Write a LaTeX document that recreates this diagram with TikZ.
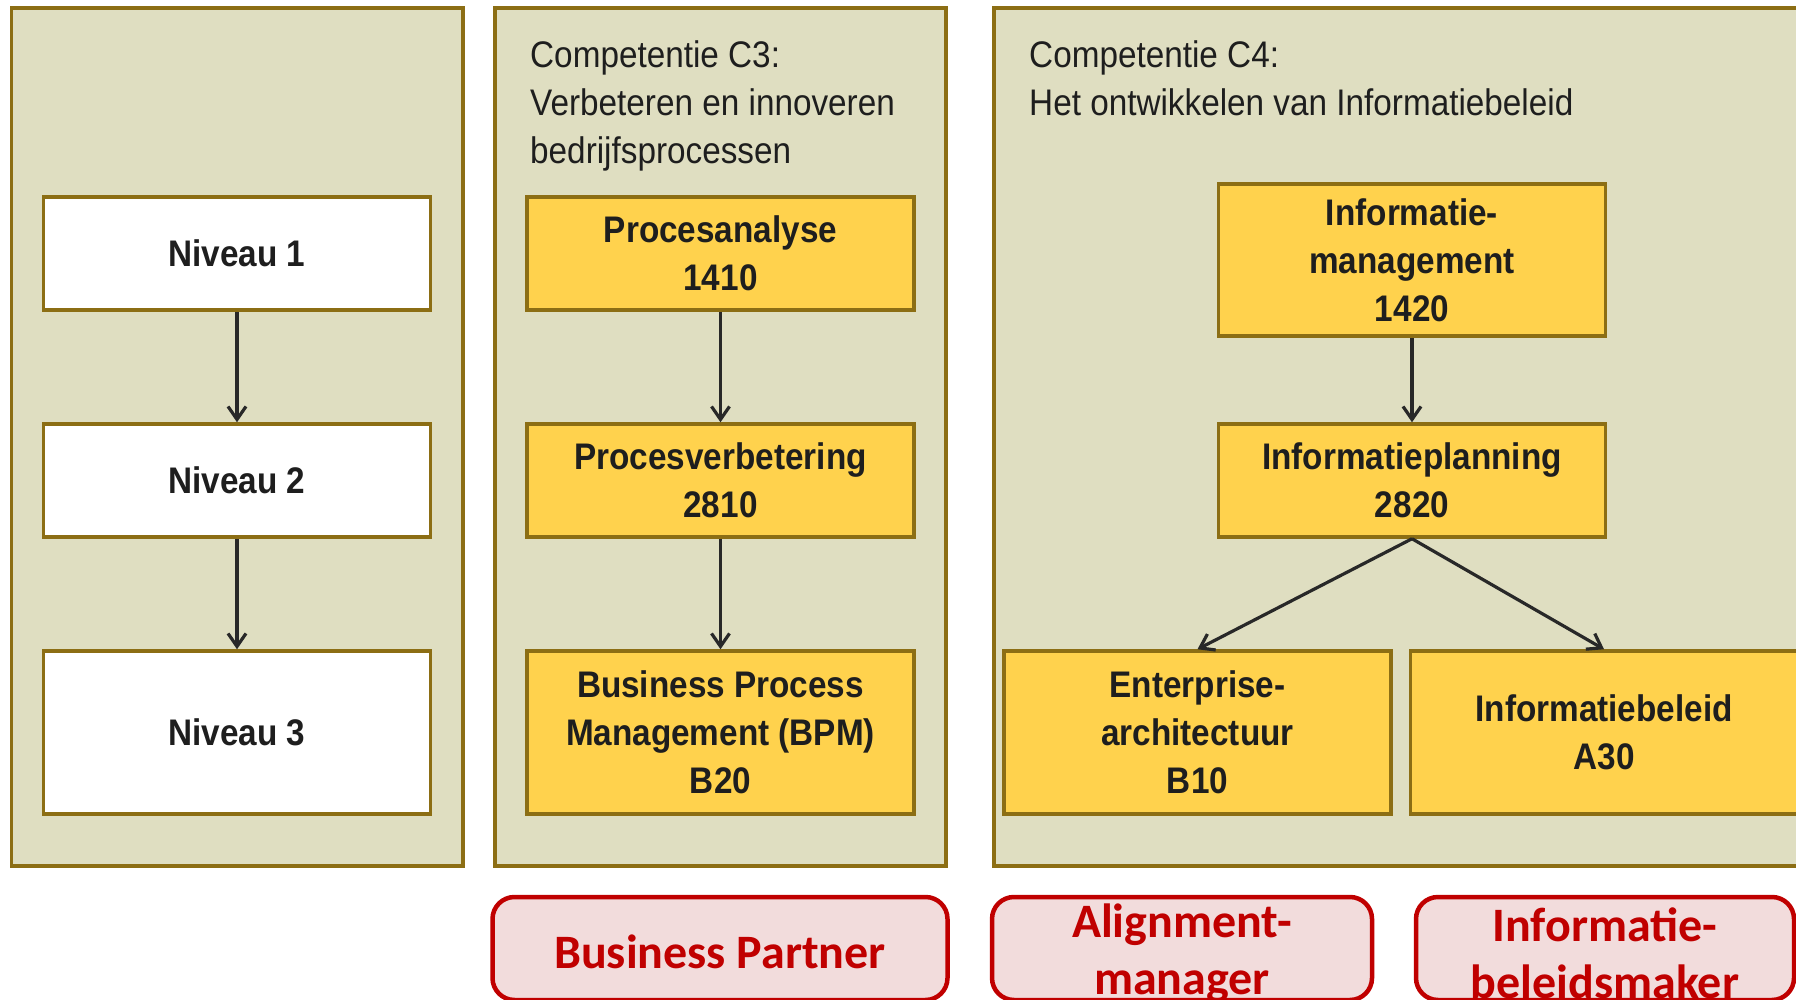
\documentclass[tikz,border=0pt]{standalone}
\usepackage{fontspec}
\setmainfont{Liberation Sans}
\newfontfamily\narrowfont[FakeStretch=0.9]{Liberation Sans}
\newfontfamily\calibfont{Carlito}
\usetikzlibrary{arrows.meta}
\definecolor{panelfill}{RGB}{223,222,193}
\definecolor{goldline}{RGB}{140,110,20}
\definecolor{boxyellow}{RGB}{255,210,77}
\definecolor{rolefill}{RGB}{242,220,220}
\definecolor{rolered}{RGB}{192,0,0}
\definecolor{textdark}{RGB}{30,30,30}
\definecolor{arrowgrey}{RGB}{40,40,40}
\begin{document}
\begin{tikzpicture}[x=1pt,y=-1pt,
  panel/.style={rectangle, draw=goldline, line width=3.5pt, fill=panelfill, inner sep=0pt},
  heading/.style={inner sep=0pt, align=left, text=textdark, font=\narrowfont\fontsize{37}{48}\selectfont},
  whitebox/.style={rectangle, draw=goldline, line width=3.5pt, fill=white, inner sep=0pt,
     minimum width=387pt, align=center, text=textdark,
     font=\narrowfont\bfseries\fontsize{37}{48}\selectfont},
  yellowbox/.style={whitebox, fill=boxyellow},
  rolebox/.style={rectangle, rounded corners=22pt, draw=rolered, line width=4.5pt, fill=rolefill,
     inner sep=0pt, minimum height=103pt},
  rolelabel/.style={text=rolered, align=center, inner sep=0pt, yshift=-5pt,
     font=\calibfont\bfseries\fontsize{48}{57}\selectfont},
  arr/.style={draw=arrowgrey, line width=3.2pt, -{Straight Barb[length=13pt,width=18pt]}}
]
\useasboundingbox (0,0) rectangle (1796,1000);
\clip (0,0) rectangle (1796,1000);
\fill[white] (0,0) rectangle (1796,1000);

% panels
\node[panel, minimum width=451.5pt, minimum height=858pt] (p1) at (237.25,437) {};
\node[panel, minimum width=451pt, minimum height=858pt] (p3) at (720.5,437) {};
\node[panel, minimum width=840pt, minimum height=858pt] (p4) at (1414,437) {};

% headings
\node[heading, anchor=north west] (h3) at (530,40) {Competentie C3:\\Verbeteren en innoveren\\bedrijfsprocessen};
\node[heading, anchor=north west] (h4) at (1029,40) {Competentie C4:\\Het ontwikkelen van Informatiebeleid};

% column 1
\node[whitebox, minimum height=113pt] (n1) at (237,253.5) {Niveau 1};
\node[whitebox, minimum height=113pt] (n2) at (237,480.5) {Niveau 2};
\node[whitebox, minimum height=163pt] (n3) at (237,732.5) {Niveau 3};

% column C3
\node[yellowbox, minimum height=113pt] (c1) at (720.5,253.5) {Procesanalyse\\1410};
\node[yellowbox, minimum height=113pt] (c2) at (720.5,480.5) {Procesverbetering\\2810};
\node[yellowbox, minimum height=163pt] (c3) at (720.5,732.5) {Business Process\\Management (BPM)\\B20};

% column C4
\node[yellowbox, minimum height=152pt] (im) at (1412,260) {Informatie-\\management\\1420};
\node[yellowbox, minimum height=113pt] (ip) at (1412,480.5) {Informatieplanning\\2820};
\node[yellowbox, minimum height=163pt] (ea) at (1197.5,732.5) {Enterprise-\\architectuur\\B10};
\node[yellowbox, minimum height=163pt] (ib) at (1604,732.5) {Informatiebeleid\\A30};

% arrows
\draw[arr] (n1) -- (n2);
\draw[arr] (n2) -- (n3);
\draw[arr] (c1) -- (c2);
\draw[arr] (c2) -- (c3);
\draw[arr] (im) -- (ip);
\draw[arr] (ip.south) -- (ea.north);
\draw[arr] (ip.south) -- (ib.north);

% roles
\node[rolebox, minimum width=455pt, label={[rolelabel, yshift=2pt]center:Business Partner}] (r1) at (720,948.5) {};
\node[rolebox, minimum width=380pt, label={[rolelabel]center:{Alignment-\\manager}}] (r2) at (1182,948.5) {};
\node[rolebox, minimum width=378pt, label={[rolelabel]center:{Informatie-\\beleidsmaker}}] (r3) at (1605,948.5) {};
\end{tikzpicture}
\end{document}
